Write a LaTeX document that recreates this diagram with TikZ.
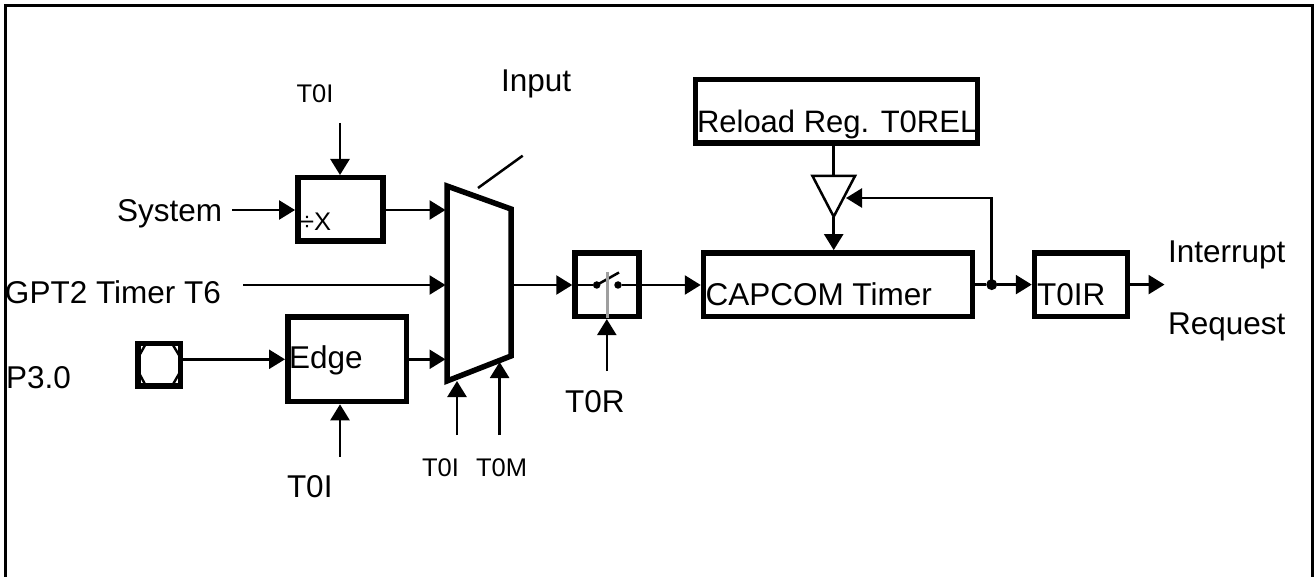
\documentclass[tikz,border=0pt]{standalone}
\usepackage{fontspec}
\setmainfont{Liberation Sans}
\usetikzlibrary{arrows.meta}
\tikzset{
  x=1pt,y=-1pt,
  box/.style={draw=black,line width=5.5pt,inner sep=0pt,outer sep=2.75pt,rectangle,fill=white},
  lab/.style={anchor=base west,inner sep=0pt,outer sep=0pt,font=\fontsize{31.5}{32}\selectfont},
  sml/.style={anchor=base west,inner sep=0pt,outer sep=0pt,font=\fontsize{25.5}{26}\selectfont},
  wire/.style={line width=2.5pt,draw=black},
  arr/.style={wire,-{Triangle[length=16pt,width=19pt]}},
  heavy/.style={line width=5.5pt,draw=black,line join=miter},
  junction/.style={circle,fill=black,inner sep=0pt,outer sep=0pt},
}
\begin{document}
\begin{tikzpicture}
\useasboundingbox (0,0) rectangle (1314,577);
% frame
\draw[line width=3pt,line join=miter] (5.5,578) -- (5.5,5.8) -- (1312.5,5.8) -- (1312.5,578);
% boxes
\node[box,minimum width=85pt,minimum height=63.5pt] (div) at (340.3,209.5) {};
\node[box,minimum width=118.5pt,minimum height=84.5pt] (edge) at (347,359.3) {};
\node[box,minimum width=64pt,minimum height=63.5pt] (sw) at (607,284.6) {};
\node[box,minimum width=269pt,minimum height=63.5pt] (cap) at (838,284.6) {};
\node[box,minimum width=282pt,minimum height=63.5pt] (rel) at (836.5,111.2) {};
\node[box,minimum width=93pt,minimum height=63.5pt] (ir) at (1081,284.6) {};
% pad
\node[draw=black,line width=5.5pt,inner sep=0pt,outer sep=2.75pt,minimum width=42.5pt,minimum height=42.5pt] (pad) at (159,364.7) {};
\draw[line width=2.4pt] (146,343.5) -- (139,356) -- (139,373) -- (146,386) -- (172,386) -- (179.5,373) -- (179.5,356) -- (172,343.5) -- cycle;
% multiplexer
\coordinate (mtl) at (447,186);
\coordinate (mtr) at (511,209);
\coordinate (mbr) at (511,356);
\coordinate (mbl) at (447,381);
\draw[heavy] (mtl) -- (mtr) -- (mbr) -- (mbl) -- cycle;
\coordinate (msys) at (445.5,210);
\coordinate (mgpt) at (445.5,285);
\coordinate (medge) at (445.5,359.3);
\coordinate (mout) at (513,285);
\coordinate (sel1) at (457,381);
\coordinate (sel2) at (499.6,362);
\coordinate (sel1s) at (457,435);
\coordinate (sel2s) at (499.6,435);
\draw[line width=2.5pt] (478,188) -- (522.7,155.7);
% labels
\node[sml] (t0itop) at (296.5,102.7) {T0I};
\node[lab] (sys) at (117,221.7) {System};
\node[lab] (gpt) at (5,303.5) {GPT2 Timer T6};
\node[lab] (p30) at (6,388) {P3.0};
\node[lab] (inp) at (501,92) {Input};
\node[lab] (edgel) at (289,368) {Edge};
\node[sml] (divl) at (300,230.7) {÷X};
\node[lab] (t0ibot) at (287,497.7) {T0I};
\node[sml] (t0im) at (422,476.7) {T0I};
\node[sml] (t0m) at (476,476.7) {T0M};
\node[lab] (t0r) at (565,412.7) {T0R};
\node[lab] (relL) at (697,132.7) {\fontsize{31}{32}\selectfont Reload Reg. T0REL};
\node[lab] (capL) at (705.5,305.7) {CAPCOM Timer};
\node[lab] (irL) at (1037,305.7) {T0IR};
\node[lab] (intr) at (1168,262.7) {Interrupt};
\node[lab] (req) at (1168,334) {Request};
% free ends
\coordinate (divin) at (340,123);
\coordinate (sysin) at (232,210);
\coordinate (gptin) at (243,285);
\coordinate (edgein) at (340,456.7);
\coordinate (srin) at (606.8,371);
\coordinate (irout) at (1164.5,284.6);
% connectors
\draw[arr] (divin) -- (divin |- div.north);
\draw[arr] (sysin) -- (sysin -| div.west);
\draw[arr] (div.east |- msys) -- (msys);
\draw[arr] (gptin) -- (mgpt);
\draw[arr] (pad.east |- edge.west) -- (edge.west);
\draw[arr] (edge.east) -- (medge);
\draw[arr] (edgein) -- (edgein |- edge.south);
\draw[arr] (sel1s) -- (sel1);
\draw[arr] (sel2s) -- (sel2);
\draw[arr] (mout) -- (sw.west |- mout);
% switch
\node[junction,minimum size=7.5pt] (c1) at (596.7,285) {};
\node[junction,minimum size=7.5pt] (c2) at (618,285) {};
\draw[wire] (sw.west |- c1) -- (c1);
\draw[line width=2.5pt] (c1.center) -- (619,272.5);
\draw[line width=3pt,draw=gray!75] (607,272) -- (607,318);
\draw[arr] (srin) -- (srin |- sw.south);
\draw[arr] (c2) -- (cap.west |- c2);
% reload + driver
\coordinate (tria) at (812.5,176);
\coordinate (trib) at (855,176);
\coordinate (tric) at (833.7,216.7);
\draw[wire] (tria |- rel.south) ++(21.2,0) -- (833.7,176);
\draw[wire,line join=miter] (tria) -- (trib) -- (tric) -- cycle;
\draw[arr] (tric) -- (tric |- cap.north);
% output and feedback
\node[junction,minimum size=11pt] (dot) at (991.7,284.6) {};
\draw[wire] (cap.east) -- (dot);
\draw[arr] (dot) -- (ir.west);
\coordinate (fb) at (846,198);
\draw[arr] (dot.center) -- (dot.center |- fb) -- (fb);
\draw[arr] (ir.east) -- (irout);
\end{tikzpicture}
\end{document}
